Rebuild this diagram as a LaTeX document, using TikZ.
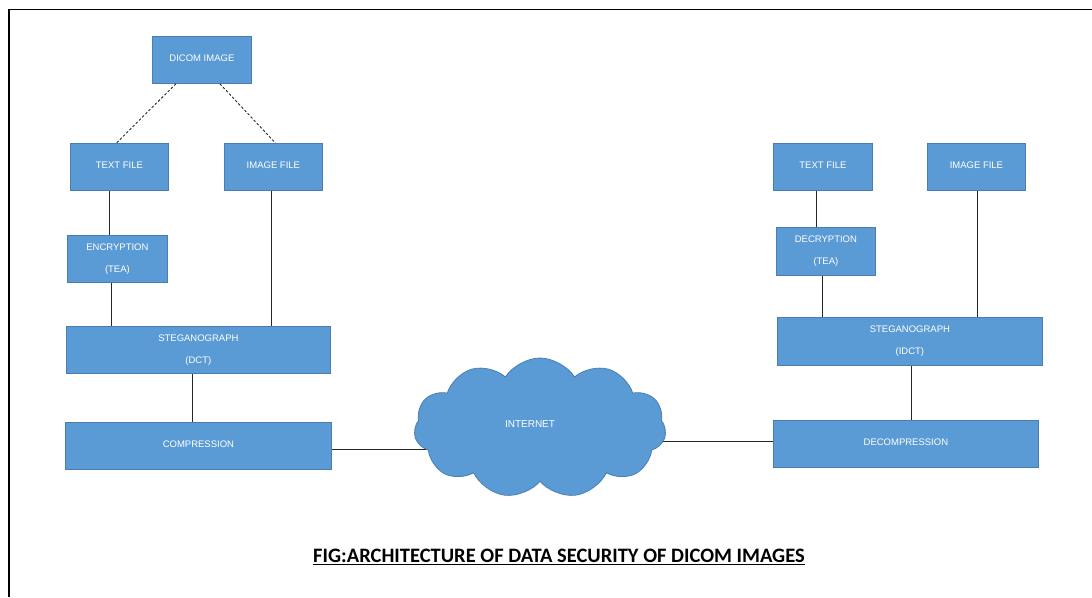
\documentclass[tikz,border=0pt]{standalone}
\usepackage{fontspec}
\setmainfont{Liberation Sans}
\newfontfamily\capfont{Carlito}
\usetikzlibrary{shapes.symbols,backgrounds}
\definecolor{boxblue}{HTML}{5B9BD5}
\definecolor{boxedge}{HTML}{4A7EB0}
\newcommand\twolines[2]{\raisebox{4pt}{\begin{tabular}{@{}c@{}}#1\\[10pt]#2\end{tabular}}}
\newcommand\oneline[1]{\raisebox{4pt}{#1}}
\tikzset{
  box/.style={draw=boxedge, fill=boxblue, line width=0.8pt, anchor=north west,
    inner sep=0pt, text=white, align=center,
    font=\fontsize{9.5}{12}\selectfont},
  link/.style={draw=black!85, line width=1pt},
  dlink/.style={draw=black!85, line width=0.9pt, dash pattern=on 2.5pt off 2pt},
}
\begin{document}
\begin{tikzpicture}[x=1pt,y=-1pt]
  \useasboundingbox (0,0) rectangle (1092,597);
  % page frame (left and top rules)
  \draw[line width=1.6pt, black] (9,597) -- (9,9.5) -- (1092,9.5);

  % sender side
  \node[box, minimum width=99pt,  minimum height=47pt] (dicom) at (152,36)  {\oneline{DICOM IMAGE}};
  \node[box, minimum width=98pt,  minimum height=47pt] (txtL)  at (70,143)  {\oneline{TEXT FILE}};
  \node[box, minimum width=98pt,  minimum height=47pt] (imgL)  at (224,143) {\oneline{IMAGE FILE}};
  \node[box, minimum width=100pt, minimum height=47pt] (enc)   at (67,235)  {\twolines{ENCRYPTION}{(TEA)}};
  \node[box, minimum width=264pt, minimum height=47pt] (stegL) at (66,326)  {\twolines{STEGANOGRAPH}{(DCT)}};
  \node[box, minimum width=266pt, minimum height=47pt] (comp)  at (65,422)  {\oneline{COMPRESSION}};

  % receiver side
  \node[box, minimum width=99pt,  minimum height=47pt] (txtR)   at (773,143) {\oneline{TEXT FILE}};
  \node[box, minimum width=98pt,  minimum height=47pt] (imgR)   at (927,143) {\oneline{IMAGE FILE}};
  \node[box, minimum width=99pt,  minimum height=48pt] (dec)    at (776,227) {\twolines{DECRYPTION}{(TEA)}};
  \node[box, minimum width=265pt, minimum height=48pt] (stegR)  at (777,317) {\twolines{STEGANOGRAPH}{(IDCT)}};
  \node[box, minimum width=265pt, minimum height=47pt] (decomp) at (773,420) {\oneline{DECOMPRESSION}};

  % network
  \node[cloud, cloud puffs=11, cloud puff arc=115, cloud ignores aspect,
        minimum width=252pt, minimum height=140pt, draw=boxedge, fill=boxblue,
        line width=0.8pt, text=white, font=\fontsize{10}{12}\selectfont,
        inner sep=0pt] (net) at (540,428) {\raisebox{7pt}{\hspace*{-20pt}INTERNET}};

  % connectors
  \draw[dlink] ([xshift=-26pt]dicom.south) -- ([xshift=-3pt]txtL.north);
  \draw[dlink] ([xshift=18pt]dicom.south) -- ([xshift=2pt]imgL.north);
  \draw[link] ([xshift=-10pt]txtL.south) -- ([xshift=-8pt]enc.north);
  \draw[link] ([xshift=-6pt]enc.south) -- ([xshift=-6pt]enc.south |- stegL.north);
  \draw[link] ([xshift=-2pt]imgL.south) -- ([xshift=-2pt]imgL.south |- stegL.north);
  \draw[link] ([xshift=-6pt]stegL.south) -- ([xshift=-6pt]stegL.south |- comp.north);
  \draw[link] ([xshift=-6pt]txtR.south) -- ([xshift=-6pt]txtR.south |- dec.north);
  \draw[link] ([xshift=-3pt]dec.south) -- ([xshift=-3pt]dec.south |- stegR.north);
  \draw[link] ([xshift=1pt]imgR.south) -- ([xshift=1pt]imgR.south |- stegR.north);
  \draw[link] ([xshift=2pt]stegR.south) -- ([xshift=2pt]stegR.south |- decomp.north);
  \begin{scope}[on background layer]
    \draw[link] ([yshift=-4pt]comp.east) -- ([yshift=-4pt]comp.east -| net.center);
    \draw[link] ([yshift=2pt]decomp.west) -- ([yshift=2pt]decomp.west -| net.center);
  \end{scope}

  % caption
  \node[inner sep=0pt, font=\capfont\bfseries\fontsize{20.5}{24}\selectfont, anchor=base]
    (cap) at (559,562) {FIG:ARCHITECTURE OF DATA SECURITY OF DICOM IMAGES};
  \draw[line width=1.8pt] ([yshift=-2.5pt]cap.base west) -- ([yshift=-2.5pt]cap.base east);
\end{tikzpicture}
\end{document}
